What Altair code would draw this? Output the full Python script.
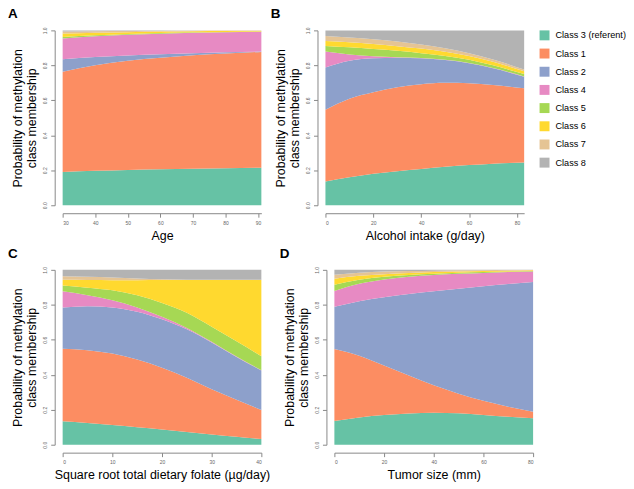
import altair as alt
import pandas as pd

CLASSES = ["Class 3 (referent)", "Class 1", "Class 2", "Class 4",
           "Class 5", "Class 6", "Class 7", "Class 8"]
COLORS = ["#66c2a5", "#fc8d62", "#8da0cb", "#e78ac3",
          "#a6d854", "#ffd92f", "#e5c494", "#b3b3b3"]

# Upper (cumulative) boundary of each class band, bottom to top; Class 8 tops out at 1.
A_x = [30, 40, 50, 60, 70, 80, 91]
A_top = {
    "Class 3 (referent)": [0.190, 0.197, 0.202, 0.206, 0.209, 0.212, 0.215],
    "Class 1": [0.763, 0.800, 0.826, 0.843, 0.858, 0.868, 0.877],
    "Class 2": [0.835, 0.848, 0.857, 0.864, 0.870, 0.875, 0.879],
    "Class 4": [0.953, 0.966, 0.975, 0.981, 0.986, 0.989, 0.992],
    "Class 5": [0.962, 0.972, 0.980, 0.985, 0.989, 0.991, 0.994],
    "Class 6": [0.982, 0.987, 0.990, 0.993, 0.995, 0.996, 0.997],
    "Class 7": [0.993, 0.995, 0.996, 0.997, 0.998, 0.999, 0.999],
    "Class 8": [1.0, 1.0, 1.0, 1.0, 1.0, 1.0, 1.0],
}

B_x = [0, 10, 20, 30, 40, 50, 60, 70, 83]
B_top = {
    "Class 3 (referent)": [0.136, 0.160, 0.180, 0.195, 0.208, 0.220, 0.230, 0.238, 0.244],
    "Class 1": [0.546, 0.609, 0.646, 0.675, 0.692, 0.700, 0.698, 0.688, 0.669],
    "Class 2": [0.788, 0.826, 0.840, 0.843, 0.840, 0.830, 0.812, 0.783, 0.735],
    "Class 4": [0.879, 0.862, 0.852, 0.846, 0.842, 0.832, 0.814, 0.785, 0.737],
    "Class 5": [0.911, 0.903, 0.893, 0.883, 0.870, 0.854, 0.832, 0.800, 0.750],
    "Class 6": [0.939, 0.932, 0.922, 0.910, 0.896, 0.878, 0.853, 0.820, 0.766],
    "Class 7": [0.968, 0.960, 0.950, 0.937, 0.920, 0.898, 0.870, 0.833, 0.776],
    "Class 8": [1.0, 1.0, 1.0, 1.0, 1.0, 1.0, 1.0, 1.0, 1.0],
}

C_x = [0, 5, 10, 15, 20, 25, 30, 35, 40]
C_top = {
    "Class 3 (referent)": [0.134, 0.124, 0.113, 0.100, 0.087, 0.072, 0.058, 0.045, 0.032],
    "Class 1": [0.549, 0.540, 0.521, 0.487, 0.440, 0.383, 0.317, 0.257, 0.198],
    "Class 2": [0.785, 0.792, 0.785, 0.760, 0.717, 0.660, 0.585, 0.502, 0.425],
    "Class 4": [0.877, 0.855, 0.826, 0.785, 0.732, 0.668, 0.589, 0.504, 0.426],
    "Class 5": [0.911, 0.898, 0.883, 0.855, 0.811, 0.755, 0.675, 0.591, 0.506],
    "Class 6": [0.943, 0.942, 0.941, 0.941, 0.942, 0.942, 0.942, 0.942, 0.942],
    "Class 7": [0.963, 0.960, 0.956, 0.951, 0.946, 0.944, 0.943, 0.943, 0.943],
    "Class 8": [1.0, 1.0, 1.0, 1.0, 1.0, 1.0, 1.0, 1.0, 1.0],
}

D_x = [0, 10, 20, 30, 40, 50, 60, 70, 80]
D_top = {
    "Class 3 (referent)": [0.136, 0.156, 0.170, 0.179, 0.183, 0.180, 0.170, 0.160, 0.151],
    "Class 1": [0.547, 0.509, 0.453, 0.396, 0.340, 0.292, 0.251, 0.217, 0.189],
    "Class 2": [0.789, 0.821, 0.843, 0.862, 0.877, 0.892, 0.906, 0.919, 0.930],
    "Class 4": [0.879, 0.920, 0.945, 0.960, 0.970, 0.977, 0.982, 0.987, 0.990],
    "Class 5": [0.915, 0.944, 0.960, 0.971, 0.978, 0.983, 0.987, 0.990, 0.993],
    "Class 6": [0.949, 0.966, 0.975, 0.982, 0.987, 0.990, 0.993, 0.995, 0.997],
    "Class 7": [0.972, 0.984, 0.990, 0.993, 0.995, 0.997, 0.998, 0.999, 0.999],
    "Class 8": [1.0, 1.0, 1.0, 1.0, 1.0, 1.0, 1.0, 1.0, 1.0],
}

FONT = "Liberation Sans"
Y_TITLE = ["Probability of methylation", "class membership"]


def build(xs, tops):
    rows = []
    prev = [0.0] * len(xs)
    for c in CLASSES:
        for i, x in enumerate(xs):
            rows.append({"x": x, "cls": c, "lo": prev[i], "hi": tops[c][i]})
        prev = tops[c]
    return pd.DataFrame(rows)


def panel(letter, xs, tops, domain, ticks, xtitle):
    df = build(xs, tops)
    return alt.Chart(df).mark_area(interpolate="monotone").encode(
        x=alt.X("x:Q", scale=alt.Scale(domain=domain, nice=False, zero=False),
                axis=alt.Axis(values=ticks, title=xtitle, offset=8, grid=False,
                              labelFontSize=5, labelColor="#666", tickColor="#888",
                              domainColor="#888", tickSize=4, labelPadding=3,
                              titleFontSize=12.5, titleFontWeight="normal",
                              titlePadding=4, titleColor="#000")),
        y=alt.Y("lo:Q", scale=alt.Scale(domain=[0, 1], nice=False),
                axis=alt.Axis(values=[0, 0.2, 0.4, 0.6, 0.8, 1.0], format=".1f",
                              title=Y_TITLE, offset=8, grid=False, labelAngle=-90,
                              labelAlign="center", labelBaseline="bottom",
                              labelFontSize=5, labelColor="#666", tickColor="#888",
                              domainColor="#888", tickSize=4, labelPadding=3,
                              titleFontSize=12.5, titleFontWeight="normal",
                              titleAlign="center", titleLineHeight=14,
                              titlePadding=4, titleColor="#000")),
        y2="hi:Q",
        color=alt.Color("cls:N", sort=CLASSES,
                        scale=alt.Scale(domain=CLASSES, range=COLORS),
                        legend=alt.Legend(title=None)),
    ).properties(
        width=200, height=176,
        title=alt.TitleParams(letter, anchor="start", frame="group", dx=-55,
                              offset=6, fontSize=13.5, fontWeight="bold",
                              font=FONT, color="#000"),
    )


A = panel("A", A_x, A_top, [30, 91], [30, 40, 50, 60, 70, 80, 90], "Age")
B = panel("B", B_x, B_top, [0, 83], [0, 20, 40, 60, 80], "Alcohol intake (g/day)")
C = panel("C", C_x, C_top, [0, 40], [0, 10, 20, 30, 40],
          "Square root total dietary folate (\u00b5g/day)")
D = panel("D", D_x, D_top, [0, 80], [0, 20, 40, 60, 80], "Tumor size (mm)")

chart = alt.vconcat(
    alt.hconcat(A, B, spacing=9.5),
    alt.hconcat(C, D, spacing=9.5),
    spacing=5,
).configure_view(strokeWidth=0).configure_axis(
    labelFont=FONT, titleFont=FONT
).configure_legend(
    orient="right", labelFont=FONT, labelFontSize=9.2, symbolType="square",
    symbolSize=100, symbolStrokeWidth=0, rowPadding=7.3, labelOffset=6,
    offset=6, padding=0, symbolOpacity=1
).properties(padding={"left": 0, "top": -2, "right": 0, "bottom": 0})

chart.save("out.html", embed_options={"renderer": "svg", "actions": False})
